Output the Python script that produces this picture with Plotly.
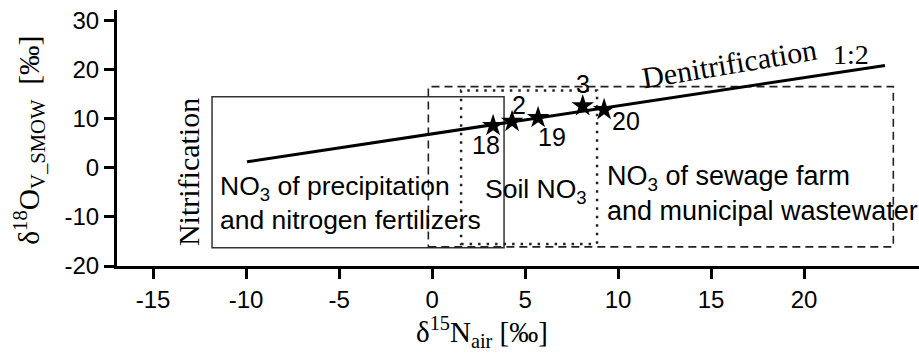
import plotly.graph_objects as go

# Sample points (delta15N, delta18O) and labels
sample_ids = ["18", "2", "19", "3", "20"]
d15n = [3.28, 4.3, 5.7, 8.1, 9.25]
d18o = [8.55, 9.4, 10.2, 12.6, 11.8]
label_x = [2.9, 4.7, 6.45, 8.1, 10.4]
label_y = [4.7, 12.8, 6.3, 17.1, 9.6]

# Denitrification line (1:2)
line_x = [-9.95, 24.35]
line_y = [1.2, 20.8]

# Source boxes [x0, x1, y0, y1]
box_precip = [-11.83, 3.87, -16.3, 14.46]
box_soil = [1.56, 8.87, -15.5, 15.7]
box_sewage = [-0.2, 24.8, -16.1, 16.5]

x_ticks = [-15, -10, -5, 0, 5, 10, 15, 20]
y_ticks = [-20, -10, 0, 10, 20, 30]

SANS = "Liberation Sans, Arial, sans-serif"
SERIF = "Liberation Serif, Times New Roman, serif"

fig = go.Figure()
fig.add_trace(go.Scatter(x=line_x, y=line_y, mode="lines",
                         line=dict(color="black", width=3), showlegend=False, hoverinfo="skip"))
fig.add_trace(go.Scatter(x=d15n, y=d18o, mode="markers",
                         marker=dict(symbol="star", size=17, color="black"),
                         showlegend=False))
for sid, lx, ly in zip(sample_ids, label_x, label_y):
    fig.add_annotation(x=lx, y=ly, text=sid, showarrow=False,
                       font=dict(family=SANS, size=25, color="black"))

def rect(b, dash, width, color):
    fig.add_shape(type="rect", x0=b[0], x1=b[1], y0=b[2], y1=b[3], xref="x", yref="y",
                  line=dict(color=color, width=width, dash=dash), layer="below")

rect(box_precip, "solid", 1.5, "#333333")
rect(box_sewage, "8px,5px", 1.6, "#222222")
rect(box_soil, "2.5px,6px", 2.5, "#222222")

fig.add_annotation(x=-11.5, y=-7.1, xanchor="left", yanchor="middle", align="left",
                   text="NO<sub>3</sub> of precipitation<br>and nitrogen fertilizers",
                   showarrow=False, font=dict(family=SANS, size=26.5, color="black"))
fig.add_annotation(x=2.74, y=-4.7, xanchor="left", yanchor="middle",
                   text="Soil NO<sub>3</sub>", showarrow=False,
                   font=dict(family=SANS, size=26.5, color="black"))
fig.add_annotation(x=9.3, y=-5.3, xanchor="left", yanchor="middle", align="left",
                   text="NO<sub>3</sub> of sewage farm<br>and municipal wastewater",
                   showarrow=False, font=dict(family=SANS, size=27, color="black"))
fig.add_annotation(x=-13.1, y=-0.8, text="Nitrification", textangle=-90, showarrow=False,
                   font=dict(family=SERIF, size=30, color="black"))
fig.add_annotation(x=16.0, y=21.2, text="Denitrification", textangle=-9.5, showarrow=False,
                   font=dict(family=SERIF, size=30, color="black"))
fig.add_annotation(x=22.5, y=23.0, text="1:2", showarrow=False,
                   font=dict(family=SERIF, size=28, color="black"))

# Axis titles
fig.add_annotation(xref="paper", yref="paper", x=0.455, y=-0.258,
                   xanchor="center", yanchor="middle",
                   text="δ<sup>15</sup>N<sub>air</sub> [‰]", showarrow=False,
                   font=dict(family=SERIF, size=29, color="black"))
fig.add_annotation(xref="paper", yref="paper", x=-0.11, y=0.492, textangle=-90,
                   xanchor="center", yanchor="middle",
                   text="δ<sup>18</sup>O<sub>V_SMOW</sub>  [‰]", showarrow=False,
                   font=dict(family=SERIF, size=29.5, color="black"))

axis_common = dict(showgrid=False, zeroline=False, showline=True, linecolor="black",
                   linewidth=3, ticks="outside", ticklen=10, tickwidth=3, tickcolor="black",
                   tickfont=dict(family=SANS, size=24, color="black"))
fig.update_xaxes(range=[-16.94, 26.18], tickvals=x_ticks, ticktext=[str(v) for v in x_ticks],
                 **axis_common)
fig.update_yaxes(range=[-20, 32.1], tickvals=y_ticks, ticktext=[str(v) for v in y_ticks],
                 ticklabelstandoff=0, **axis_common)

fig.update_layout(width=919, height=353, margin=dict(l=117, r=0, t=10, b=87),
                  plot_bgcolor="white", paper_bgcolor="white")

fig.write_html("out.html")
